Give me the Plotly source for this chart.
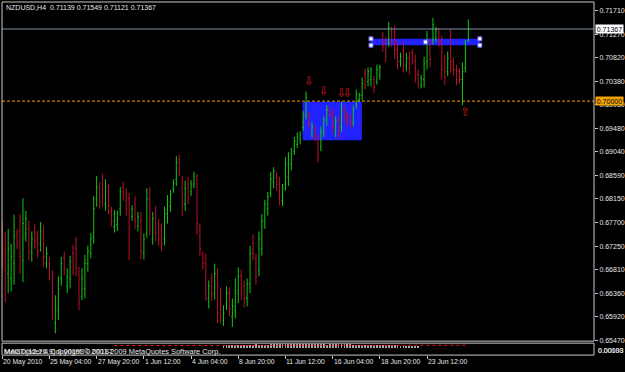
import plotly.graph_objects as go

W, H = 625, 372

# ---------------- data (NZDUSD H4 bars) ----------------
opens = [0.6747,0.6713,0.6673,0.6664,0.6692,0.6749,0.6754,0.6698,0.6749,0.6758,
         0.6711,0.6754,0.6739,0.6730,0.6749,0.6692,0.6692,0.6668,0.6579,0.6603,
         0.6664,0.6702,0.6649,0.6664,0.6711,0.6720,0.6673,0.6630,0.6645,0.6692,
         0.6711,0.6743,0.6815,0.6834,0.6843,0.6805,0.6830,0.6792,0.6762,0.6766,
         0.6796,0.6837,0.6824,0.6815,0.6781,0.6805,0.6762,0.6773,0.6711,0.6749,
         0.6815,0.6739,0.6786,0.6766,0.6754,0.6739,0.6786,0.6800,0.6834,0.6852,
         0.6890,0.6847,0.6805,0.6843,0.6828,0.6843,0.6852,0.6758,0.6709,0.6692,
         0.6626,0.6664,0.6636,0.6673,0.6636,0.6585,0.6617,0.6636,0.6592,0.6603,
         0.6636,0.6668,0.6649,0.6626,0.6654,0.6730,0.6702,0.6679,0.6720,0.6773,
         0.6796,0.6824,0.6847,0.6856,0.6843,0.6811,0.6843,0.6856,0.6881,0.6905,
         0.6918,0.6928,0.6950,0.6975,0.6973,0.6939,0.6947,0.6928,0.6913,0.6941,
         0.6965,0.6984,0.6975,0.6941,0.6962,0.6950,0.6984,0.6975,0.6969,0.6960,
         0.6994,0.7003,0.7011,0.7052,0.7037,0.7041,0.7041,0.7037,0.7048,0.7124,
         0.7113,0.7116,0.7133,0.7131,0.7097,0.7075,0.7097,0.7067,0.7082,0.7092,
         0.7075,0.7050,0.7030,0.7041,0.7075,0.7107,0.7116,0.7120,0.7131,0.7107,
         0.7075,0.7056,0.7120,0.7075,0.7060,0.7056,0.7041,0.7063,0.71139]
highs = [0.6773,0.6753,0.6758,0.6730,0.6785,0.6758,0.6786,0.6816,0.6792,0.6773,
         0.6753,0.6768,0.6754,0.6771,0.6765,0.6724,0.6705,0.6679,0.6632,0.6668,
         0.6705,0.6715,0.6683,0.6707,0.6728,0.6743,0.6686,0.6683,0.6709,0.6726,
         0.6750,0.6820,0.6858,0.6847,0.6862,0.6852,0.6843,0.6800,0.6794,0.6792,
         0.6837,0.6847,0.6835,0.6826,0.6803,0.6820,0.6790,0.6790,0.6749,0.6835,
         0.6837,0.6790,0.6801,0.6777,0.6768,0.6800,0.6822,0.6832,0.6852,0.6896,
         0.6898,0.6858,0.6849,0.6856,0.6850,0.6866,0.6862,0.6768,0.6715,0.6711,
         0.6660,0.6673,0.6692,0.6683,0.6647,0.6613,0.6649,0.6647,0.6626,0.6664,
         0.6685,0.6681,0.6660,0.6664,0.6726,0.6747,0.6711,0.6753,0.6786,0.6813,
         0.6828,0.6866,0.6875,0.6866,0.6856,0.6843,0.6894,0.6903,0.6911,0.6932,
         0.6941,0.6943,0.6981,0.7018,0.6979,0.6960,0.6952,0.6937,0.6952,0.6971,
         0.6992,0.6988,0.6984,0.6971,0.6971,0.6999,0.6990,0.6981,0.6975,0.6992,
         0.7022,0.7016,0.7045,0.7062,0.7064,0.7064,0.7047,0.7069,0.7069,0.7131,
         0.7122,0.7150,0.7141,0.7143,0.7113,0.7092,0.7113,0.7092,0.7094,0.7099,
         0.7088,0.7060,0.7050,0.7084,0.7133,0.7120,0.7158,0.7141,0.7139,0.7124,
         0.7088,0.7094,0.7137,0.7082,0.7069,0.7062,0.7073,0.7116,0.71549]
lows = [0.6683,0.6619,0.6636,0.6639,0.6652,0.6720,0.6673,0.6657,0.6734,0.6698,
        0.6696,0.6720,0.6702,0.6715,0.6686,0.6683,0.6660,0.6585,0.6560,0.6585,
        0.6650,0.6670,0.6636,0.6645,0.6670,0.6668,0.6604,0.6623,0.6626,0.6677,
        0.6702,0.6730,0.6800,0.6796,0.6800,0.6792,0.6786,0.6762,0.6751,0.6754,
        0.6783,0.6811,0.6783,0.6698,0.6773,0.6758,0.6753,0.6700,0.6700,0.6741,
        0.6745,0.6728,0.6734,0.6726,0.6716,0.6726,0.6768,0.6790,0.6826,0.6839,
        0.6858,0.6783,0.6792,0.6805,0.6820,0.6835,0.6747,0.6707,0.6681,0.6621,
        0.6607,0.6621,0.6624,0.6579,0.6579,0.6574,0.6604,0.6592,0.6572,0.6588,
        0.6617,0.6623,0.6609,0.6611,0.6636,0.6698,0.6652,0.6668,0.6707,0.6758,
        0.6783,0.6818,0.6835,0.6830,0.6803,0.6801,0.6830,0.6839,0.6869,0.6898,
        0.6911,0.6918,0.6943,0.6965,0.6950,0.6932,0.6924,0.6884,0.6905,0.6932,
        0.6954,0.6969,0.6941,0.6932,0.6928,0.6941,0.6960,0.6952,0.6950,0.6952,
        0.6986,0.6998,0.7001,0.7022,0.7028,0.7028,0.7016,0.7031,0.7041,0.7094,
        0.7073,0.7103,0.7103,0.7080,0.7060,0.7065,0.7054,0.7056,0.7050,0.7069,
        0.7035,0.7024,0.7024,0.7026,0.7060,0.7064,0.7107,0.7113,0.7103,0.7041,
        0.7031,0.7047,0.7054,0.7048,0.7030,0.7033,0.6992,0.7054,0.71121]
closes = [0.6709,0.6658,0.6720,0.6705,0.6745,0.6730,0.6705,0.6768,0.6777,0.6716,
          0.6739,0.6734,0.6716,0.6754,0.6705,0.6711,0.6673,0.6598,0.6607,0.6645,
          0.6692,0.6683,0.6668,0.6696,0.6686,0.6683,0.6617,0.6664,0.6692,0.6716,
          0.6739,0.6796,0.6837,0.6809,0.6819,0.6837,0.6802,0.6773,0.6786,0.6777,
          0.6828,0.6822,0.6796,0.6730,0.6796,0.6773,0.6781,0.6716,0.6739,0.6815,
          0.6758,0.6777,0.6749,0.6739,0.6730,0.6786,0.6809,0.6824,0.6845,0.6884,
          0.6867,0.6805,0.6834,0.6819,0.6843,0.6858,0.6768,0.6720,0.6692,0.6636,
          0.6649,0.6634,0.6673,0.6598,0.6592,0.6598,0.6636,0.6607,0.6611,0.6641,
          0.6668,0.6639,0.6626,0.6654,0.6711,0.6711,0.6668,0.6739,0.6773,0.6805,
          0.6819,0.6852,0.6867,0.6841,0.6819,0.6834,0.6881,0.6890,0.6900,0.6924,
          0.6932,0.6937,0.6971,0.7007,0.6958,0.6952,0.6932,0.6900,0.6941,0.6962,
          0.6984,0.6975,0.6950,0.6962,0.6937,0.6984,0.6969,0.6960,0.6956,0.6984,
          0.7013,0.7011,0.7033,0.7031,0.7056,0.7060,0.7026,0.7060,0.7064,0.7105,
          0.7086,0.7139,0.7113,0.7097,0.7075,0.7084,0.7069,0.7082,0.7063,0.7079,
          0.7050,0.7033,0.7043,0.7071,0.7116,0.7079,0.7145,0.7135,0.7113,0.7060,
          0.7045,0.7082,0.7075,0.7060,0.7041,0.7041,0.7056,0.7107,0.71367]
bar_index = list(range(len(closes)))

# time axis labels (bar index where each label sits)
time_tick_bars = [0, 16, 32, 48, 64, 80, 96, 112, 128, 144]
time_tick_labels = ["20 May 2010", "25 May 04:00", "27 May 20:00", "1 Jun 12:00",
                    "4 Jun 04:00", "8 Jun 20:00", "11 Jun 12:00", "16 Jun 04:00",
                    "18 Jun 20:00", "23 Jun 12:00"]

# price axis ticks
price_ticks = [0.65470, 0.65920, 0.66360, 0.66810, 0.67250, 0.67700, 0.68150,
               0.68590, 0.69040, 0.69480, 0.69930, 0.70380, 0.70820, 0.71270, 0.71710]

# fractal arrows
fractal_up_bars = [104, 109, 115, 117]
fractal_up_prices = [0.7036, 0.7018, 0.7013, 0.7013]
fractal_dn_bars = [157]
fractal_dn_prices = [0.6977]

# chart objects
bid_price = 0.71367
hline_price = 0.70000
box_bars = [101.8, 121.9]
box_prices = [0.6926, 0.6999]
band_bars = [125.0, 161.9]
band_prices = [0.7106, 0.7118]
band_mid_bar = 143.5

# MACD sub-window (squashed)
macd_hist_start = 75
macd_hist = [0.00022,0.00025,0.00028,0.00030,0.00031,0.00030,0.00029,0.00030,0.00032,0.00033,
             0.00034,0.00035,0.00034,0.00033,0.00032,0.00033,0.00035,0.00036,0.00037,0.00038,
             0.00038,0.00037,0.00036,0.00035,0.00036,0.00037,0.00038,0.00039,0.00040,0.00040,
             0.00039,0.00038,0.00037,0.00036,0.00035,0.00034,0.00035,0.00036,0.00037,0.00038,
             0.00038,0.00037,0.00036,0.00035,0.00034,0.00033,0.00032,0.00031,0.00032,0.00033,
             0.00034,0.00033,0.00032,0.00031,0.00030,0.00029,0.00028,0.00027,0.00026,0.00025,
             0.00024,0.00023,0.00022,0.00021,0.00020,0.00019,0.00018]
macd_signal_bars = list(range(38, 159, 4))
macd_signal = [0.00026,0.00026,0.00027,0.00027,0.00028,0.00028,0.00028,0.00029,0.00029,0.00030,
               0.00030,0.00031,0.00031,0.00031,0.00032,0.00032,0.00032,0.00032,0.00033,0.00033,
               0.00033,0.00033,0.00033,0.00032,0.00032,0.00032,0.00031,0.00031,0.00030,0.00030,
               0.00029]

# ---------------- styling ----------------
FONT = "Liberation Sans"
TXT = "#E6E6E6"
FRAME = "#C8C8C8"
BULL = "#12C812"
BEAR = "#BC102C"
BLUE = "#2222FF"
ORANGE = "#F0A000"


def px(x):
    return x / W


def py(y):
    return 1 - y / H


fig = go.Figure()

fig.add_trace(go.Ohlc(
    x=bar_index, open=opens, high=highs, low=lows, close=closes,
    increasing=dict(line=dict(color=BULL, width=1)),
    decreasing=dict(line=dict(color=BEAR, width=1)),
    tickwidth=0.35, hoverinfo="skip", showlegend=False,
    xaxis="x", yaxis="y"))

fig.add_trace(go.Scatter(
    x=fractal_up_bars, y=fractal_up_prices, mode="text", text=["⇩"] * len(fractal_up_bars),
    textfont=dict(family="DejaVu Sans", size=12, color="#D01818"),
    hoverinfo="skip", showlegend=False, xaxis="x", yaxis="y"))
fig.add_trace(go.Scatter(
    x=fractal_dn_bars, y=fractal_dn_prices, mode="text", text=["⇧"] * len(fractal_dn_bars),
    textfont=dict(family="DejaVu Sans", size=12, color="#D01818"),
    hoverinfo="skip", showlegend=False, xaxis="x", yaxis="y"))

# selection handles of the band object
fig.add_trace(go.Scatter(
    x=[band_bars[0], band_bars[1], band_bars[0], band_bars[1], band_mid_bar],
    y=[band_prices[1], band_prices[1], band_prices[0], band_prices[0],
       (band_prices[0] + band_prices[1]) / 2],
    mode="markers", marker=dict(symbol="square", size=4, color="white",
                                line=dict(color="#6060FF", width=1)),
    hoverinfo="skip", showlegend=False, xaxis="x", yaxis="y"))

# MACD
fig.add_trace(go.Bar(
    x=list(range(macd_hist_start, macd_hist_start + len(macd_hist))), y=macd_hist,
    marker=dict(color="#A8A8A8", line=dict(width=0)), width=0.3,
    hoverinfo="skip", showlegend=False, xaxis="x", yaxis="y2"))
fig.add_trace(go.Scatter(
    x=macd_signal_bars, y=macd_signal, mode="lines",
    line=dict(color="#FF1010", width=1, dash="dot"),
    hoverinfo="skip", showlegend=False, xaxis="x", yaxis="y2"))

shapes = [
    dict(type="rect", xref="x", yref="y", x0=box_bars[0], x1=box_bars[1],
         y0=box_prices[0], y1=box_prices[1], fillcolor=BLUE, line=dict(width=0), layer="below"),
    dict(type="rect", xref="x", yref="y", x0=band_bars[0], x1=band_bars[1],
         y0=band_prices[0], y1=band_prices[1], fillcolor=BLUE, line=dict(width=0), layer="below"),
    dict(type="line", xref="paper", yref="y", x0=px(2), x1=px(594), y0=bid_price, y1=bid_price,
         line=dict(color="#7F93A6", width=1)),
    dict(type="line", xref="paper", yref="y", x0=px(2), x1=px(594), y0=hline_price, y1=hline_price,
         line=dict(color=ORANGE, width=1, dash="3px,2px")),
    dict(type="rect", xref="paper", yref="paper", x0=px(2), x1=px(594), y0=py(343), y1=py(2),
         line=dict(color=FRAME, width=1)),
    dict(type="rect", xref="paper", yref="paper", x0=px(2), x1=px(594), y0=py(357), y1=py(345),
         line=dict(color=FRAME, width=1)),
]

annotations = [
    dict(xref="paper", yref="paper", x=px(4), y=py(7.5), xanchor="left", yanchor="middle",
         text="NZDUSD,H4\u00a0 0.71139 0.71549 0.71121 0.71367", showarrow=False,
         font=dict(family=FONT, size=7, color=TXT)),
    dict(xref="paper", yref="y", x=px(595), y=bid_price, xanchor="left", yanchor="middle",
         text="0.71367", showarrow=False, bgcolor="white", borderpad=0, width=27, height=8,
         font=dict(family=FONT, size=7, color="black")),
    dict(xref="paper", yref="y", x=px(595), y=hline_price, xanchor="left", yanchor="middle",
         text="0.70000", showarrow=False, bgcolor=ORANGE, borderpad=0, width=27, height=8,
         font=dict(family=FONT, size=7, color="black")),
    dict(xref="paper", yref="paper", x=px(2), y=py(353), xanchor="left", yanchor="middle",
         text="MACD(12,26,9) 0.00193 0.00187", showarrow=False,
         font=dict(family=FONT, size=7.4, color=TXT)),
    dict(xref="paper", yref="paper", x=px(2), y=py(353), xanchor="left", yanchor="middle",
         text="MetaTrader 4 Copyright © 2001-2009 MetaQuotes Software Corp.", showarrow=False,
         font=dict(family=FONT, size=7.4, color=TXT)),
    dict(xref="paper", yref="paper", x=px(596), y=py(352), xanchor="left", yanchor="middle",
         text="0.00000", showarrow=False, font=dict(family=FONT, size=7, color=TXT)),
    dict(xref="paper", yref="paper", x=px(596), y=py(352.5), xanchor="left", yanchor="middle",
         text="0.00193", showarrow=False, font=dict(family=FONT, size=7, color=TXT)),
]
for b, lab in zip(time_tick_bars, time_tick_labels):
    annotations.append(dict(xref="x", yref="paper", x=b, y=py(363.5), xanchor="left",
                            yanchor="middle", xshift=-1, text=lab, showarrow=False,
                            font=dict(family=FONT, size=6.8, color=TXT)))

fig.update_layout(
    width=W, height=H, margin=dict(l=0, r=0, t=0, b=0),
    paper_bgcolor="black", plot_bgcolor="black",
    showlegend=False, bargap=0,
    xaxis=dict(domain=[px(2), px(594)], range=[-0.1, 200.6], anchor="y2",
               showgrid=False, zeroline=False, showline=False,
               tickmode="array", tickvals=time_tick_bars, showticklabels=False,
               ticks="outside", ticklen=3, tickcolor=FRAME, tickwidth=1,
               rangeslider=dict(visible=False), fixedrange=True),
    yaxis=dict(domain=[py(343), py(2)], range=[0.65451, 0.71879], side="right", anchor="x",
               showgrid=False, zeroline=False, showline=False,
               tickmode="array", tickvals=price_ticks,
               ticktext=["%.5f" % v for v in price_ticks],
               ticks="outside", ticklen=3, tickcolor=FRAME, tickwidth=1,
               tickfont=dict(family=FONT, size=7, color=TXT), fixedrange=True),
    yaxis2=dict(domain=[py(357), py(345)], range=[-0.0007, 0.0005], side="right", anchor="x",
                showgrid=False, zeroline=False, showline=False, showticklabels=False,
                fixedrange=True),
    shapes=shapes, annotations=annotations,
)

fig.write_html("out.html")
